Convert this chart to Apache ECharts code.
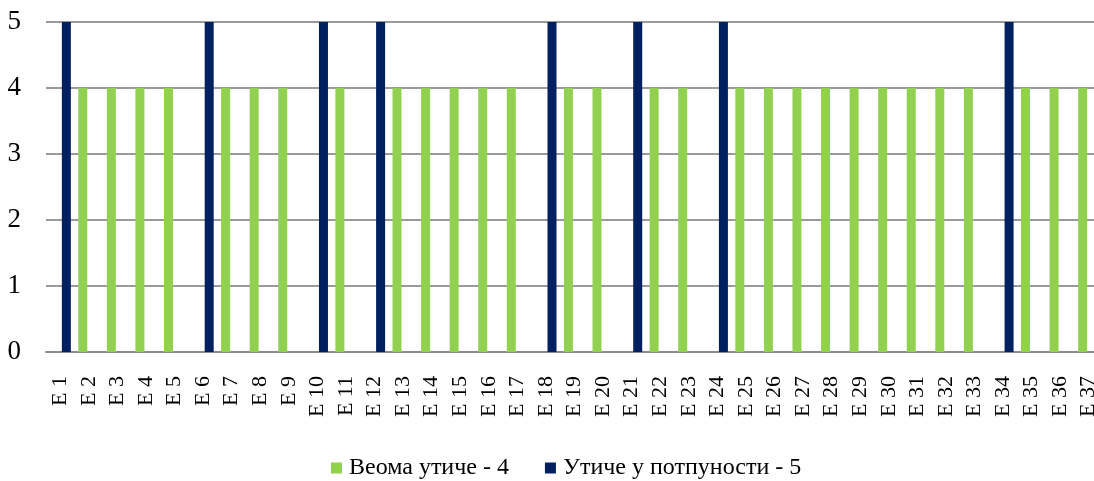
<!DOCTYPE html>
<html>
<head>
<meta charset="utf-8">
<script src="https://cdn.jsdelivr.net/npm/echarts@6/dist/echarts.min.js"></script>
<style>
  html, body { margin: 0; padding: 0; background: #fff; overflow: hidden; }
  #chart { width: 1094px; height: 481px; }
</style>
</head>
<body>
<div id="chart"></div>
<script>
// Categories E 1 … E 37
const categories = [
  'E 1','E 2','E 3','E 4','E 5','E 6','E 7','E 8','E 9','E 10',
  'E 11','E 12','E 13','E 14','E 15','E 16','E 17','E 18','E 19','E 20',
  'E 21','E 22','E 23','E 24','E 25','E 26','E 27','E 28','E 29','E 30',
  'E 31','E 32','E 33','E 34','E 35','E 36','E 37'
];

// "Веома утиче - 4" (null where the item is rated 5)
const veryMuch = [
  null,4,4,4,4,null,4,4,4,null,
  4,null,4,4,4,4,4,null,4,4,
  null,4,4,null,4,4,4,4,4,4,
  4,4,4,null,4,4,4
];

// "Утиче у потпуности - 5"
const fully = [
  5,null,null,null,null,5,null,null,null,5,
  null,5,null,null,null,null,null,5,null,null,
  5,null,null,5,null,null,null,null,null,null,
  null,null,null,5,null,null,null
];

const yTicks = [0, 1, 2, 3, 4, 5];

const FONT = '"Liberation Serif", "DejaVu Serif", serif';

const chart = echarts.init(document.getElementById('chart'));
chart.setOption({
  animation: false,
  textStyle: { fontFamily: FONT, color: '#000' },
  // the plot runs slightly past the right edge, so the last label is cut
  grid: {
    left: 46, width: 1057, top: 22, bottom: 129,
    containLabel: false,
    outerBoundsMode: 'none'
  },
  legend: {
    top: 451,
    left: 326,
    icon: 'rect',
    itemWidth: 11,
    itemHeight: 11,
    itemGap: 36,
    textStyle: { fontFamily: FONT, fontSize: 24, color: '#000', padding: [0, 0, 0, 2] },
    data: ['Веома утиче - 4', 'Утиче у потпуности - 5']
  },
  xAxis: {
    type: 'category',
    data: categories,
    axisLine: { show: true, lineStyle: { color: '#8c8c8c', width: 2 } },
    axisTick: { show: false },
    axisLabel: {
      interval: 0,
      rotate: 90,
      margin: 24,
      fontFamily: FONT,
      fontSize: 22,
      color: '#000'
    }
  },
  yAxis: {
    type: 'value',
    min: yTicks[0],
    max: yTicks[yTicks.length - 1],
    interval: 1,
    axisLine: { show: false },
    axisTick: { show: false },
    splitLine: { lineStyle: { color: '#9a9a9a', width: 2 } },
    axisLabel: {
      margin: 25,
      fontFamily: FONT,
      fontSize: 27,
      color: '#000'
    }
  },
  series: [
    {
      name: 'Веома утиче - 4',
      type: 'bar',
      data: veryMuch,
      barWidth: 9,
      barGap: '35%',
      itemStyle: { color: '#92D050' }
    },
    {
      name: 'Утиче у потпуности - 5',
      type: 'bar',
      data: fully,
      barWidth: 9,
      barGap: '35%',
      itemStyle: { color: '#002060' }
    }
  ]
});
</script>
</body>
</html>
